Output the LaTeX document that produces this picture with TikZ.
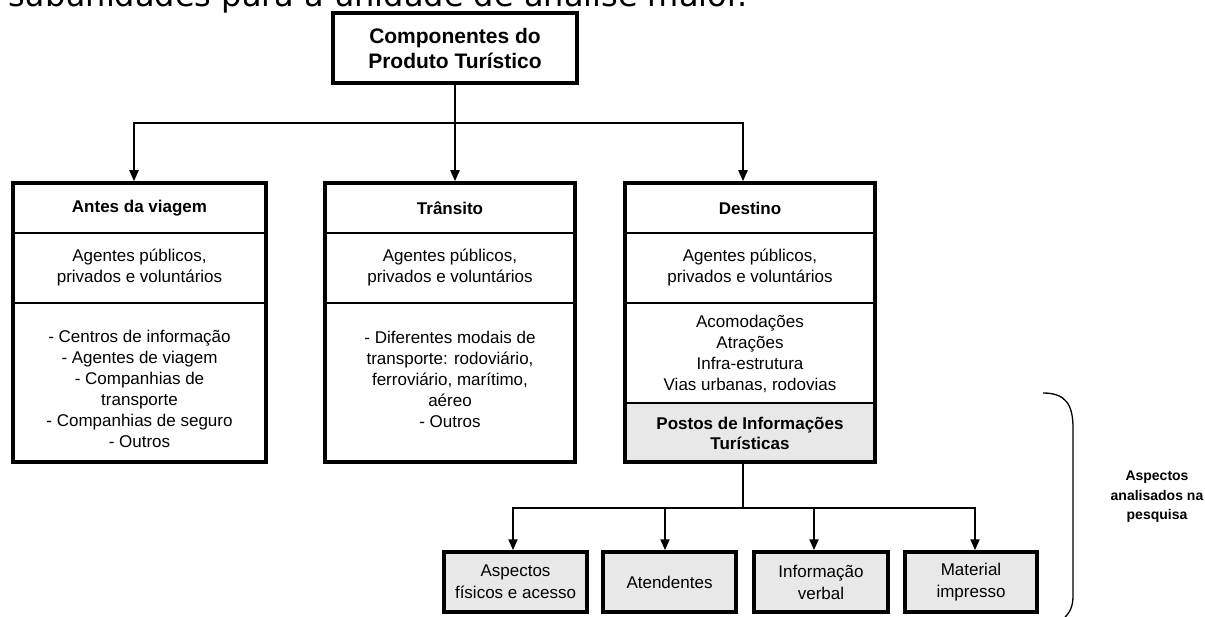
\documentclass[tikz,border=0pt]{standalone}
\usepackage{fontspec}
\setmainfont{Liberation Sans}
\newfontfamily\headfont{DejaVu Sans}
\usetikzlibrary{arrows.meta}
\definecolor{boxgray}{RGB}{232,232,232}
\begin{document}
\begin{tikzpicture}[x=1pt,y=-1pt,
  box/.style={draw, line width=3.5pt, inner sep=0pt},
  sep/.style={line width=2.5pt},
  conn/.style={line width=2.2pt},
  arr/.style={conn, -{Triangle[width=9pt,length=11pt]}},
  txt/.style={align=center, font=\fontsize{17}{21}\selectfont, inner sep=0pt},
  ttl/.style={align=center, font=\fontsize{17}{21}\selectfont\bfseries, inner sep=0pt},
]
\useasboundingbox (0,0) rectangle (1205,617);

% heading (cut off at top)
\node[anchor=base west, inner sep=0pt, font=\headfont\fontsize{32}{38}\selectfont] (head) at (8,7) {subunidades para a unidade de análise maior.};

% fills
\fill[boxgray] (625,403) rectangle (875,462);

% boxes
\node[box, minimum width=244pt, minimum height=70pt] (top) at (455,48) {};
\node[box, minimum width=253pt, minimum height=279pt] (antes) at (139.5,322.5) {};
\node[box, minimum width=250pt, minimum height=279pt] (transito) at (450,322.5) {};
\node[box, minimum width=250pt, minimum height=279pt] (destino) at (750,322.5) {};

\node[box, fill=boxgray, minimum width=143pt, minimum height=60pt] (b1) at (515.5,582) {};
\node[box, fill=boxgray, minimum width=133pt, minimum height=60pt] (b2) at (669.5,582) {};
\node[box, fill=boxgray, minimum width=134pt, minimum height=60pt] (b3) at (821,582) {};
\node[box, fill=boxgray, minimum width=132pt, minimum height=60pt] (b4) at (971,582) {};

% separators
\foreach \b in {antes,transito,destino}{
  \draw[sep] (\b.west |- 0,233) -- (\b.east |- 0,233);
  \draw[sep] (\b.west |- 0,303) -- (\b.east |- 0,303);
}
\draw[sep] (destino.west |- 0,403) -- (destino.east |- 0,403);

% texts
\node[align=center, inner sep=0pt, font=\fontsize{21}{25}\selectfont\bfseries] (top-t) at (top.center) {Componentes do\\Produto Turístico};

\node[ttl] (antes-t) at (139.5,208) {Antes da viagem};
\node[txt] (antes-a) at (139.5,268) {Agentes públicos,\\privados e voluntários};
\node[txt] (antes-l) at (139.5,389) {- Centros de informação\\- Agentes de viagem\\- Companhias de\\transporte\\- Companhias de seguro\\- Outros};

\node[ttl] (transito-t) at (450,208) {Trânsito};
\node[txt] (transito-a) at (450,268) {Agentes públicos,\\privados e voluntários};
\node[txt] (transito-l) at (450,379) {- Diferentes modais de\\transporte: rodoviário,\\ferroviário, marítimo,\\aéreo\\- Outros};

\node[ttl] (destino-t) at (750,208) {Destino};
\node[txt] (destino-a) at (750,268) {Agentes públicos,\\privados e voluntários};
\node[txt] (destino-l) at (750,354) {Acomodações\\Atrações\\Infra-estrutura\\Vias urbanas, rodovias};
\node[ttl, font=\fontsize{17}{20}\selectfont\bfseries] (postos) at (750,433) {Postos de Informações\\Turísticas};

\node[txt, font=\fontsize{17}{22}\selectfont] (b1-t) at (b1.center) {Aspectos\\físicos e acesso};
\node[txt] (b2-t) at (b2.center) {Atendentes};
\node[txt, font=\fontsize{17}{22}\selectfont] (b3-t) at (b3.center) {Informação\\verbal};
\node[txt, font=\fontsize{17}{22}\selectfont] (b4-t) at (b4.center) {Material\\impresso};

\node[align=center, inner sep=0pt, font=\fontsize{14}{19.5}\selectfont\bfseries] (label) at (1157,497) {Aspectos\\analisados na\\pesquisa};

% connectors
\coordinate (hm) at (455,123);
\coordinate (h1) at (134,123);
\coordinate (h3) at (743,123);
\coordinate (pv) at (743,508);
\coordinate (g1) at (513,508);
\coordinate (g2) at (665,508);
\coordinate (g3) at (814,508);
\coordinate (g4) at (975,508);

\draw[conn] (top.south) -- (hm);
\draw[arr] (hm) -| (antes.north -| h1);
\draw[arr] (hm) -| (destino.north -| h3);
\draw[arr] (hm) -- (transito.north -| hm);

\draw[conn] (destino.south -| pv) -- (pv);
\draw[arr] (pv) -| (b1.north -| g1);
\draw[arr] (g2) -- (b2.north -| g2);
\draw[arr] (g3) -- (b3.north -| g3);
\draw[arr] (pv) -| (b4.north -| g4);

% bracket
\draw[line width=1.3pt] (1043,393) .. controls (1066,393) and (1073,405) .. (1073,428) -- (1073,596) .. controls (1073,608) and (1069,614) .. (1062,620);
\end{tikzpicture}
\end{document}
